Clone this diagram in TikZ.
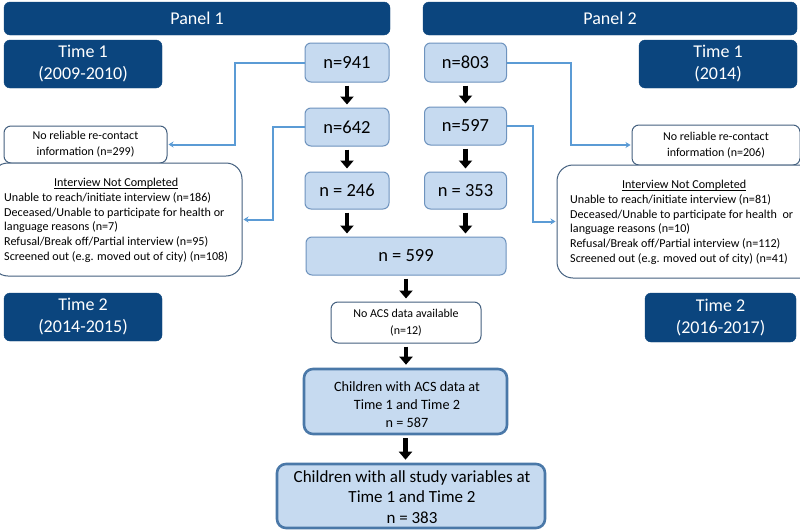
\documentclass[tikz,border=0pt]{standalone}
\usepackage{fontspec}
\setmainfont{Carlito}
\usetikzlibrary{arrows.meta}
\definecolor{navy}{HTML}{0B457E}
\definecolor{lblue}{HTML}{C6DAF0}
\definecolor{bborder}{HTML}{6E93BE}
\definecolor{conncol}{HTML}{5B9BD5}
\definecolor{wborder}{HTML}{44607F}
\definecolor{tborder}{HTML}{4A78A8}
\newcommand\myul[1]{\setbox0\hbox{#1}\rlap{\rule[-1.6pt]{\wd0}{0.6pt}}\box0}
\tikzset{
  hdr/.style={fill=navy, draw=navy, rounded corners=6pt, text=white, inner sep=0pt, align=center,
    font=\fontsize{18}{22}\selectfont},
  nbox/.style={fill=lblue, draw=bborder, line width=1pt, rounded corners=6pt, inner sep=0pt,
    font=\fontsize{18.5}{22}\selectfont, align=center},
  wbox/.style={fill=white, draw=wborder, line width=1pt, rounded corners=7pt, inner sep=0pt, align=center},
  ibox/.style={fill=white, draw=wborder, line width=1pt, rounded corners=16pt, inner sep=0pt},
  tbox/.style={fill=lblue, draw=tborder, line width=2.6pt, rounded corners=9pt, inner sep=0pt, align=center},
  txt/.style={inner sep=0pt, align=left, font=\fontsize{12.1}{14.7}\selectfont},
  btxt/.style={inner sep=0pt, align=center},
  blk/.style={black, line width=4.5pt, -{Triangle[width=13pt,length=8pt]}},
  conn/.style={conncol, line width=2pt, -{Stealth[width=6pt,length=5pt]}, shorten >=1pt},
}
\begin{document}
\begin{tikzpicture}[x=1pt,y=-1pt]
\useasboundingbox[fill=white] (0,0) rectangle (800,530);

% headers
\node[hdr, minimum width=386pt, minimum height=33pt] (p1) at (197,18.5) {Panel 1};
\node[hdr, minimum width=374pt, minimum height=33pt] (p2) at (610,18.5) {Panel 2};
\node[hdr, minimum width=158pt, minimum height=48pt] (t1a) at (83,64) {Time 1\\(2009-2010)};
\node[hdr, minimum width=158pt, minimum height=48pt] (t1b) at (718,64) {Time 1\\(2014)};
\node[hdr, minimum width=158pt, minimum height=48pt] (t2a) at (83,317) {Time 2\\(2014-2015)};
\node[hdr, minimum width=151pt, minimum height=49pt] (t2b) at (720.5,317.5) {Time 2\\(2016-2017)};

% n boxes
\node[nbox, minimum width=84pt, minimum height=39pt] (n941) at (347,62.5) {n=941};
\node[nbox, minimum width=82pt, minimum height=39pt] (n803) at (465.5,62.5) {n=803};
\node[nbox, minimum width=84pt, minimum height=38pt] (n642) at (347,127) {n=642};
\node[nbox, minimum width=82pt, minimum height=38pt] (n597) at (465.5,126) {n=597};
\node[nbox, minimum width=84pt, minimum height=37pt] (n246) at (347,190.5) {n = 246};
\node[nbox, minimum width=82pt, minimum height=37pt] (n353) at (465.5,190.5) {n = 353};
\node[nbox, minimum width=200pt, minimum height=38pt] (n599) at (406,256) {n = 599};

% lower chain
\node[wbox, minimum width=150pt, minimum height=41pt, font=\fontsize{12}{16.5}\selectfont] (noacs) at (406,322.5)
  {No ACS data available\\(n=12)};
\node[tbox, minimum width=203pt, minimum height=65pt] (acs) at (405.5,401.5) {};
\node[btxt, font=\fontsize{14.2}{18}\selectfont] (acstxt) at (407,405)
  {Children with ACS data at\\Time 1 and Time 2\\n = 587};
\node[tbox, minimum width=268pt, minimum height=64pt] (fin) at (411,496) {};
\node[btxt, font=\fontsize{17}{20.5}\selectfont] (fintxt) at (412,497)
  {Children with all study variables at\\Time 1 and Time 2\\n = 383};

% side boxes left
\node[wbox, minimum width=163pt, minimum height=37pt, font=\fontsize{12}{16}\selectfont] (nrl) at (85.5,144.5)
  {No reliable re-contact\\information (n=299)};
\node[ibox, minimum width=250pt, minimum height=113pt] (il) at (117,219.5) {};
\node[txt, anchor=north west] (iltxt) at (4,178)
  {\makebox[224pt]{\myul{Interview Not Completed}}\\
   Unable to reach/initiate interview (n=186)\\
   Deceased/Unable to participate for health or\\
   language reasons (n=7)\\
   Refusal/Break off/Partial interview (n=95)\\
   Screened out (e.g. moved out of city) (n=108)};

% side boxes right
\node[wbox, minimum width=168pt, minimum height=40pt, font=\fontsize{12}{16}\selectfont] (nrr) at (716,145)
  {No reliable re-contact\\information (n=206)};
\node[ibox, minimum width=260pt, minimum height=113pt] (ir) at (687,221.5) {};
\node[txt, anchor=north west] (irtxt) at (570,180)
  {\makebox[228pt]{\myul{Interview Not Completed}}\\
   Unable to reach/initiate interview (n=81)\\
   Deceased/Unable to participate for health\ \ or\\
   language reasons (n=10)\\
   Refusal/Break off/Partial interview (n=112)\\
   Screened out (e.g. moved out of city) (n=41)};

% black arrows
\draw[blk] ([yshift=-3pt]n941.south) -- ([yshift=3pt]n642.north);
\draw[blk] ([yshift=-3pt]n803.south) -- ([yshift=3pt]n803.south |- n597.north);
\draw[blk] ([yshift=-3pt]n642.south) -- ([yshift=3pt]n246.north);
\draw[blk] ([yshift=-3pt]n597.south) -- ([yshift=3pt]n597.south |- n353.north);
\draw[blk] ([yshift=-3pt]n246.south) -- ([yshift=3pt]n246.south |- n599.north);
\draw[blk] ([yshift=-3pt]n353.south) -- ([yshift=3pt]n353.south |- n599.north);
\draw[blk] ([yshift=-3pt]n599.south) -- ([yshift=3pt]n599.south |- noacs.north);
\draw[blk] ([yshift=-3pt]noacs.south) -- ([yshift=3pt]noacs.south |- acs.north);
\draw[blk] ([yshift=-3pt]acs.south) -- ([yshift=3pt]acs.south |- fin.north);

% blue connectors
\draw[conn] (n941.west) -- ++(-70,0) |- (nrl.east);
\draw[conn] (n642.west) -- ++(-32,0) |- (il.east);
\draw[conn] (n803.east) -- ++(64,0) |- (nrr.west);
\draw[conn] (n597.east) -- ++(26,0) |- (ir.west);
\end{tikzpicture}
\end{document}
